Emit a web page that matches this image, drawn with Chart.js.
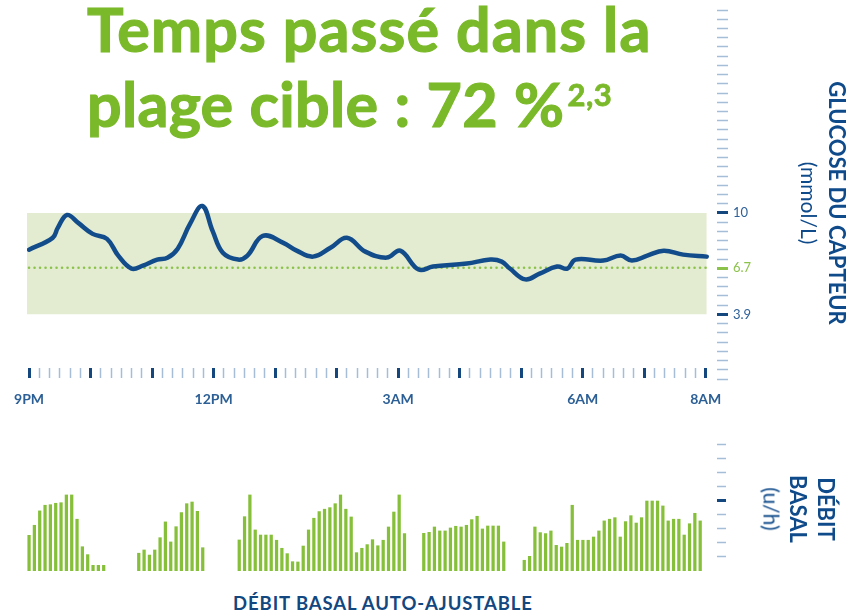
<!DOCTYPE html>
<html>
<head>
<meta charset="utf-8">
<script src="https://cdn.jsdelivr.net/npm/chart.js@4.4.1/dist/chart.umd.min.js"></script>
<style>
html,body{margin:0;padding:0;background:#ffffff;}
body{width:866px;height:612px;position:relative;overflow:hidden;font-family:Lato,"Open Sans",sans-serif;}
#glucoseChart{position:absolute;left:0;top:0;}
#basalChart{position:absolute;left:0;top:430px;}
.title{position:absolute;left:87px;top:-9px;font-weight:700;font-size:61px;line-height:75px;color:#7ab929;white-space:nowrap;-webkit-text-stroke:1.2px #7ab929;}
.title .l1{letter-spacing:1.1px;}
.title .l2{word-spacing:1px;letter-spacing:0.3px;}
.title .sup{display:inline-block;font-size:31px;position:relative;top:-21px;margin-left:3px;word-spacing:0;letter-spacing:0.5px;-webkit-text-stroke:0.8px #7ab929;}
.vlabel{position:absolute;transform:translate(-50%,-50%) rotate(90deg);white-space:nowrap;color:#0f4a8a;line-height:1;}
.hlabel{position:absolute;transform:translate(-50%,-50%);white-space:nowrap;color:#12477f;font-weight:700;line-height:1;}
</style>
</head>
<body>
<canvas id="glucoseChart" width="866" height="420"></canvas>
<canvas id="basalChart" width="866" height="150"></canvas>
<div class="title"><span class="l1">Temps passé dans la</span><br><span class="l2">plage cible : 72 %<span class="sup">2,3</span></span></div>
<div class="vlabel" style="left:837px;top:203px;font-weight:700;font-size:22px;">GLUCOSE DU CAPTEUR</div>
<div class="vlabel" style="left:809px;top:203px;font-size:21px;">(mmol/L)</div>
<div class="vlabel" style="left:826px;top:509px;font-weight:700;font-size:22px;">DÉBIT</div>
<div class="vlabel" style="left:798px;top:509px;font-weight:700;font-size:22px;">BASAL</div>
<div class="vlabel" style="left:772px;top:509px;font-size:21px;">(u/h)</div>
<div class="hlabel" style="left:383px;top:603px;font-size:18.5px;letter-spacing:0.9px;">DÉBIT BASAL AUTO-AJUSTABLE</div>
<script>
// ---- Data ----
// glucose curve: minutes after 9PM, sensor glucose (mmol/L)
const glucoseMinutes = [0,23,28,37,48,62,76,87,100,111,125,135,145,157,169,179,189,204,213,228,248,261,277,294,310,328,349,362,380,394,427,450,461,469,484,498,515,525,533,560,577,588,603,619,638,661];
const glucoseMmol = [7.79,8.5,9.1,9.88,9.4,8.74,8.44,7.43,6.65,6.83,7.19,7.3,7.85,9.34,10.42,8.92,7.6,7.19,7.43,8.62,8.2,7.73,7.37,7.9,8.5,7.67,7.31,7.73,6.59,6.77,6.95,7.19,7.07,6.65,6.0,6.35,6.77,6.65,7.19,7.13,7.43,7.13,7.43,7.73,7.49,7.37];
// target range
const targetLow = 3.9;
const targetHigh = 10;
const targetMid = 6.7;
const rangeStartMin = -2;
const rangeEndMin = 661;
// time axis labels
const timeLabels = ['9PM','12PM','3AM','6AM','8AM'];
const timeLabelMinutes = [0,180,360,540,660];
// glucose axis labels (mg/dL grid positions, shown in mmol/L)
const glucoseLabels = ['10','6.7','3.9'];
const glucoseLabelMg = [180,120,70];
// auto-adjusting basal delivery: group start (minutes after 9PM) and bar heights
const basalStarts = [0,107,205,385,483];
const basalStepMin = 5.2;
const basalGroup1 = [2.53,3.24,4.26,4.66,4.70,4.80,4.84,5.39,5.39,3.67,1.72,1.16,0.40,0.40,0.40];
const basalGroup2 = [1.26,1.49,1.13,1.49,2.36,3.48,2.06,3.14,4.14,4.77,4.89,4.23,1.65];
const basalGroup3 = [2.20,3.85,5.39,2.91,2.55,2.55,2.55,2.18,1.61,1.23,0.66,0.64,1.77,2.91,3.74,4.21,4.38,4.49,4.77,5.39,4.38,3.83,1.30,1.61,1.87,2.22,1.79,2.18,3.12,4.18,5.39,2.65];
const basalGroup4 = [2.67,2.74,3.12,2.84,2.84,3.05,3.17,3.12,3.24,3.64,3.88,2.98,3.19,3.19,3.19,2.06];
const basalGroup5 = [0.76,1.04,3.12,2.72,2.65,2.84,1.82,1.70,1.96,4.66,2.18,2.18,2.18,2.41,2.84,3.55,3.67,3.78,2.41,3.50,3.92,3.40,3.78,4.96,4.96,4.96,4.61,3.55,3.67,3.67,2.55,3.35,4.09,3.55];
const basalTickValues = [1,2,3,4,5,6,7,8,9];
const basalMajorTick = 5;

// ---- Styles ----
const DARK = '#15477f';
const LIGHT = '#a6bdd8';
const GREEN = '#8bc34a';
const CURVE = '#134c8a';
const BAND = '#e3ebd1';
const BAR = '#86c03a';

Chart.defaults.font.family = 'Lato, "Open Sans", sans-serif';

const glucosePoints = glucoseMinutes.map((m, i) => ({x: m, y: glucoseMmol[i]}));

new Chart(document.getElementById('glucoseChart'), {
  type: 'line',
  data: {
    datasets: [
      {
        data: [{x: rangeStartMin, y: targetHigh}, {x: rangeEndMin, y: targetHigh}],
        fill: {value: targetLow},
        backgroundColor: BAND,
        borderWidth: 0,
        pointRadius: 0,
        order: 3
      },
      {
        data: [{x: 0, y: targetMid}, {x: rangeEndMin, y: targetMid}],
        borderColor: GREEN,
        borderWidth: 2.6,
        borderDash: [0, 5.5],
        borderCapStyle: 'round',
        pointRadius: 0,
        fill: false,
        order: 2
      },
      {
        data: glucosePoints,
        borderColor: CURVE,
        borderWidth: 4.5,
        tension: 0.4,
        borderCapStyle: 'round',
        borderJoinStyle: 'round',
        pointRadius: 0,
        fill: false,
        order: 1
      }
    ]
  },
  options: {
    responsive: false,
    animation: false,
    devicePixelRatio: 1,
    layout: {padding: {left: 27, right: 109, top: 10, bottom: 41}},
    plugins: {legend: {display: false}, tooltip: {enabled: false}},
    scales: {
      x: {
        type: 'linear',
        min: rangeStartMin,
        max: 671,
        position: {y: 0.66},
        border: {display: false},
        grid: {
          drawOnChartArea: false,
          drawTicks: true,
          tickLength: 10,
          tickColor: (ctx) => (ctx.tick && ctx.tick.value % 60 === 0) ? DARK : LIGHT,
          tickWidth: (ctx) => (ctx.tick && ctx.tick.value % 60 === 0) ? 3 : 1.5
        },
        afterBuildTicks: (scale) => {
          const t = [];
          for (let m = 0; m <= 660; m += 10) t.push({value: m});
          scale.ticks = t;
        },
        ticks: {
          autoSkip: false,
          maxRotation: 0,
          minRotation: 0,
          padding: 13,
          color: '#2b5f96',
          font: {size: 14, weight: '700'},
          callback: (v) => {
            const i = timeLabelMinutes.indexOf(v);
            return i >= 0 ? timeLabels[i] : '';
          }
        }
      },
      y: {
        type: 'linear',
        position: 'right',
        min: 0,
        max: 400 / 18,
        border: {display: false},
        grid: {
          drawOnChartArea: false,
          drawTicks: true,
          tickLength: 11,
          tickColor: (ctx) => {
            const mg = Math.round(ctx.tick.value * 18);
            if (mg === 120) return GREEN;
            return glucoseLabelMg.includes(mg) ? DARK : LIGHT;
          },
          tickWidth: (ctx) => {
            const mg = Math.round(ctx.tick.value * 18);
            return glucoseLabelMg.includes(mg) ? 3 : 1.5;
          }
        },
        afterBuildTicks: (scale) => {
          const t = [];
          for (let mg = 0; mg <= 400; mg += 10) t.push({value: mg / 18});
          scale.ticks = t;
        },
        afterFit: (scale) => {
          scale.width = 40;
          scale.paddingTop = 0;
          scale.paddingBottom = 0;
        },
        ticks: {
          autoSkip: false,
          padding: 5,
          font: {size: 13},
          color: (ctx) => Math.round(ctx.tick.value * 18) === 120 ? '#8bc34a' : '#2f6199',
          callback: (v) => {
            const i = glucoseLabelMg.indexOf(Math.round(v * 18));
            return i >= 0 ? glucoseLabels[i] : '';
          }
        }
      }
    }
  }
});

const basalGroups = [basalGroup1, basalGroup2, basalGroup3, basalGroup4, basalGroup5];
const basalPoints = [];
basalGroups.forEach((g, gi) => {
  g.forEach((v, i) => basalPoints.push({x: basalStarts[gi] + i * basalStepMin, y: v}));
});

new Chart(document.getElementById('basalChart'), {
  type: 'bar',
  data: {
    datasets: [{
      data: basalPoints,
      backgroundColor: BAR,
      borderWidth: 0,
      barThickness: 2.6
    }]
  },
  options: {
    responsive: false,
    animation: false,
    devicePixelRatio: 1,
    layout: {padding: {left: 27, right: 109, top: 14, bottom: 9}},
    plugins: {legend: {display: false}, tooltip: {enabled: false}},
    scales: {
      x: {
        type: 'linear',
        min: rangeStartMin,
        max: 671,
        offset: false,
        grid: {offset: false},
        display: false
      },
      y: {
        type: 'linear',
        position: 'right',
        min: 0,
        max: 9,
        border: {display: false},
        grid: {
          drawOnChartArea: false,
          drawTicks: true,
          tickLength: 9,
          tickColor: (ctx) => ctx.tick.value === basalMajorTick ? DARK : LIGHT,
          tickWidth: (ctx) => ctx.tick.value === basalMajorTick ? 3 : 1.5
        },
        afterBuildTicks: (scale) => {
          scale.ticks = basalTickValues.map(v => ({value: v}));
        },
        afterFit: (scale) => {
          scale.width = 40;
          scale.paddingTop = 0;
          scale.paddingBottom = 0;
        },
        ticks: {
          autoSkip: false,
          callback: () => ''
        }
      }
    }
  }
});
</script>
</body>
</html>
